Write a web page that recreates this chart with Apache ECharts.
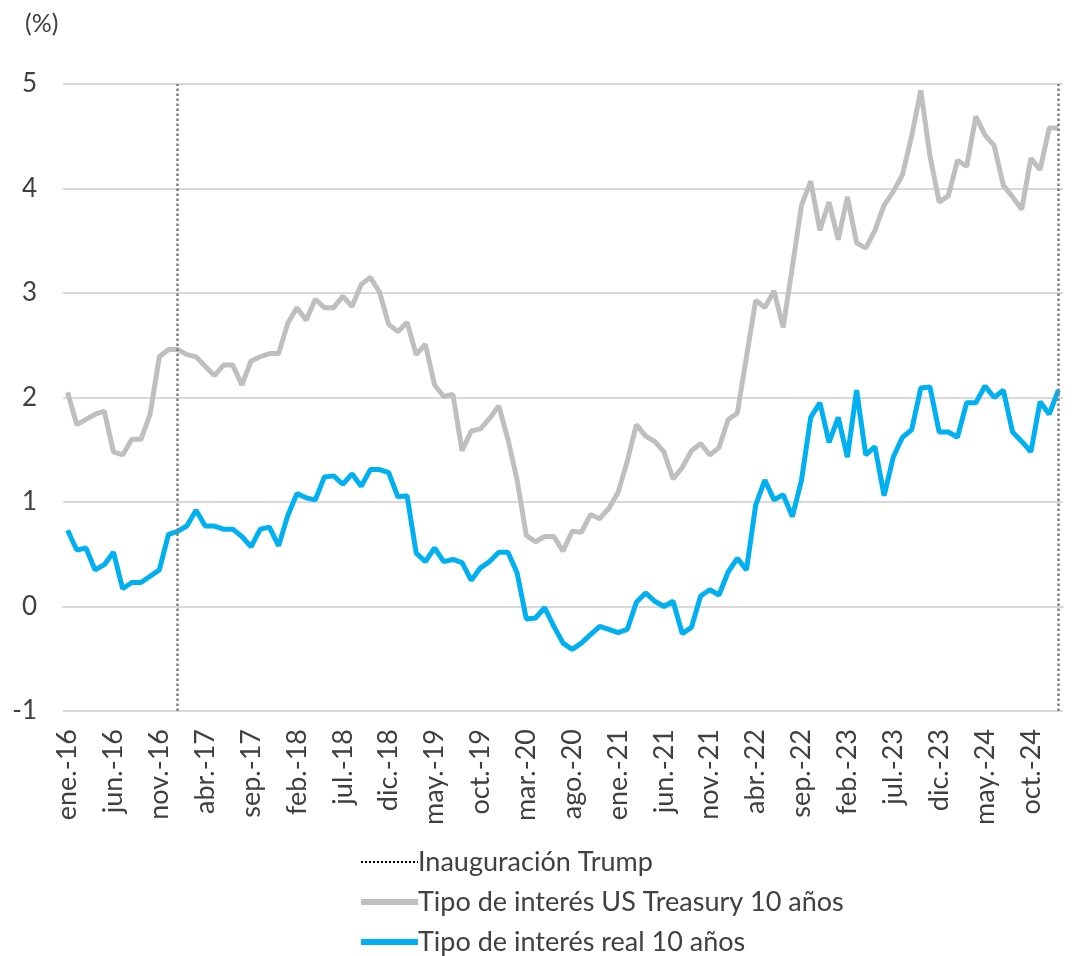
<!DOCTYPE html>
<html>
<head>
<meta charset="utf-8">
<title>Tipos de interés 10 años</title>
<script src="https://cdn.jsdelivr.net/npm/echarts@6/dist/echarts.min.js"></script>
<style>
  html, body { margin: 0; padding: 0; background: #fff; }
  #chart { width: 1074px; height: 956px; }
</style>
</head>
<body>
<div id="chart"></div>
<script>
// meses ene.-16 ... ene.-25
const monthNames = ['ene.', 'feb.', 'mar.', 'abr.', 'may.', 'jun.', 'jul.', 'ago.', 'sep.', 'oct.', 'nov.', 'dic.'];
const years = ['16', '17', '18', '19', '20', '21', '22', '23', '24', '25'];

const categories = [];
years.forEach(function (y) {
  monthNames.forEach(function (m) {
    if (categories.length < 109) categories.push(m + '-' + y);
  });
});

// Tipo de interés US Treasury 10 años (%)
const treasury10y = [
  2.05, 1.74, 1.79, 1.84, 1.87, 1.48, 1.45, 1.60, 1.60, 1.84, 2.39, 2.46,
  2.46, 2.41, 2.39, 2.30, 2.21, 2.31, 2.31, 2.12, 2.35, 2.39, 2.42, 2.42,
  2.71, 2.86, 2.74, 2.94, 2.86, 2.86, 2.97, 2.87, 3.08, 3.15, 3.01, 2.70,
  2.63, 2.72, 2.41, 2.51, 2.12, 2.01, 2.03, 1.49, 1.68, 1.70, 1.80, 1.92,
  1.60, 1.21, 0.68, 0.62, 0.67, 0.67, 0.53, 0.72, 0.71, 0.88, 0.84, 0.94,
  1.09, 1.39, 1.74, 1.63, 1.58, 1.48, 1.22, 1.33, 1.49, 1.56, 1.45, 1.52,
  1.79, 1.85, 2.39, 2.93, 2.86, 3.02, 2.67, 3.25, 3.84, 4.07, 3.60, 3.87,
  3.51, 3.92, 3.48, 3.43, 3.60, 3.84, 3.97, 4.13, 4.50, 4.94, 4.31, 3.87,
  3.93, 4.27, 4.21, 4.69, 4.51, 4.41, 4.03, 3.92, 3.80, 4.29, 4.18, 4.58,
  4.58
];

// Tipo de interés real 10 años (%)
const real10y = [
  0.73, 0.54, 0.56, 0.35, 0.40, 0.52, 0.17, 0.23, 0.23, 0.29, 0.35, 0.69,
  0.72, 0.77, 0.92, 0.77, 0.77, 0.74, 0.74, 0.67, 0.57, 0.74, 0.76, 0.58,
  0.87, 1.08, 1.04, 1.02, 1.24, 1.25, 1.17, 1.27, 1.15, 1.31, 1.31, 1.28,
  1.05, 1.06, 0.51, 0.43, 0.56, 0.43, 0.45, 0.42, 0.25, 0.37, 0.43, 0.52,
  0.52, 0.32, -0.12, -0.11, -0.01, -0.19, -0.35, -0.41, -0.35, -0.27, -0.19, -0.22,
  -0.25, -0.22, 0.04, 0.13, 0.05, 0.00, 0.05, -0.26, -0.20, 0.10, 0.16, 0.11,
  0.33, 0.46, 0.35, 0.97, 1.21, 1.02, 1.07, 0.86, 1.21, 1.81, 1.95, 1.57,
  1.81, 1.43, 2.07, 1.45, 1.53, 1.06, 1.43, 1.62, 1.69, 2.09, 2.10, 1.67,
  1.67, 1.62, 1.95, 1.95, 2.11, 2.00, 2.07, 1.67, 1.58, 1.48, 1.96, 1.84,
  2.07
];

// fechas de inauguración
const inaugurations = ['ene.-17', 'ene.-25'];

const textColor = '#404040';
const fontFamily = 'Lato, "Open Sans", sans-serif';

const chart = echarts.init(document.getElementById('chart'));

chart.setOption({
  animation: false,
  textStyle: { fontFamily: fontFamily, color: textColor },
  title: {
    text: '(%)',
    left: 20,
    top: 6,
    textStyle: { fontFamily: fontFamily, fontSize: 25, fontWeight: 'normal', color: textColor }
  },
  grid: { left: 63, right: 11, top: 84, bottom: 245 },
  legend: {
    orient: 'vertical',
    left: 358,
    top: 848,
    padding: 0,
    itemWidth: 57,
    itemHeight: 14,
    itemGap: 12,
    itemStyle: { opacity: 0 },
    textStyle: { fontFamily: fontFamily, fontSize: 27, lineHeight: 28, color: textColor, padding: [0, 0, 0, -5] },
    data: [
      { name: 'Inauguración Trump', lineStyle: { width: 2 } },
      { name: 'Tipo de interés US Treasury 10 años', lineStyle: { width: 6 } },
      { name: 'Tipo de interés real 10 años', lineStyle: { width: 6 } }
    ]
  },
  xAxis: {
    type: 'category',
    data: categories,
    boundaryGap: true,
    axisLine: { lineStyle: { color: '#D9D9D9', width: 2 } },
    axisTick: { show: false },
    axisLabel: {
      interval: 4,
      rotate: 90,
      margin: 18,
      fontSize: 27,
      color: textColor,
      fontFamily: fontFamily
    }
  },
  yAxis: {
    type: 'value',
    min: -1,
    max: 5,
    interval: 1,
    axisLine: { show: false },
    axisTick: { show: false },
    axisLabel: { margin: 26, fontSize: 26, color: textColor, fontFamily: fontFamily },
    splitLine: { lineStyle: { color: '#D9D9D9', width: 2 } }
  },
  series: [
    {
      name: 'Inauguración Trump',
      type: 'line',
      data: [],
      symbol: 'none',
      lineStyle: { color: '#000000', type: 'dotted', width: 2 },
      itemStyle: { color: '#000000' },
      markLine: {
        silent: true,
        symbol: 'none',
        label: { show: false },
        lineStyle: { color: '#7F7F7F', type: 'dotted', width: 2.5 },
        data: inaugurations.map(function (d) { return { xAxis: d }; })
      }
    },
    {
      name: 'Tipo de interés US Treasury 10 años',
      type: 'line',
      data: treasury10y,
      symbol: 'none',
      lineStyle: { color: '#BFBFBF', width: 5 },
      itemStyle: { color: '#BFBFBF' }
    },
    {
      name: 'Tipo de interés real 10 años',
      type: 'line',
      data: real10y,
      symbol: 'none',
      lineStyle: { color: '#00B0F0', width: 5 },
      itemStyle: { color: '#00B0F0' }
    }
  ]
});
</script>
</body>
</html>
